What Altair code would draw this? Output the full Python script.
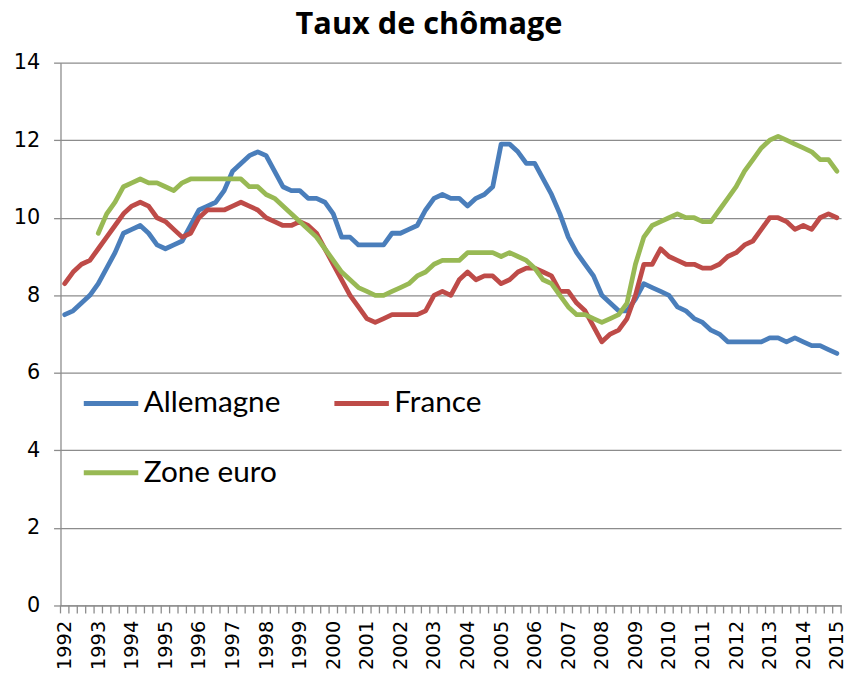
import altair as alt
import pandas as pd

# Quarterly data, 1992 T1 .. 2015 T1 (93 quarters)
first_year = 1992
n_quarters = 93

allemagne = [
    7.5, 7.6, 7.8, 8.0, 8.3, 8.7, 9.1, 9.6, 9.7, 9.8,
    9.6, 9.3, 9.2, 9.3, 9.4, 9.8, 10.2, 10.3, 10.4, 10.7,
    11.2, 11.4, 11.6, 11.7, 11.6, 11.2, 10.8, 10.7, 10.7, 10.5,
    10.5, 10.4, 10.1, 9.5, 9.5, 9.3, 9.3, 9.3, 9.3, 9.6,
    9.6, 9.7, 9.8, 10.2, 10.5, 10.6, 10.5, 10.5, 10.3, 10.5,
    10.6, 10.8, 11.9, 11.9, 11.7, 11.4, 11.4, 11.0, 10.6, 10.1,
    9.5, 9.1, 8.8, 8.5, 8.0, 7.8, 7.6, 7.6, 7.9, 8.3,
    8.2, 8.1, 8.0, 7.7, 7.6, 7.4, 7.3, 7.1, 7.0, 6.8,
    6.8, 6.8, 6.8, 6.8, 6.9, 6.9, 6.8, 6.9, 6.8, 6.7,
    6.7, 6.6, 6.5,
]
france = [
    8.3, 8.6, 8.8, 8.9, 9.2, 9.5, 9.8, 10.1, 10.3, 10.4,
    10.3, 10.0, 9.9, 9.7, 9.5, 9.6, 10.0, 10.2, 10.2, 10.2,
    10.3, 10.4, 10.3, 10.2, 10.0, 9.9, 9.8, 9.8, 9.9, 9.8,
    9.6, 9.2, 8.8, 8.4, 8.0, 7.7, 7.4, 7.3, 7.4, 7.5,
    7.5, 7.5, 7.5, 7.6, 8.0, 8.1, 8.0, 8.4, 8.6, 8.4,
    8.5, 8.5, 8.3, 8.4, 8.6, 8.7, 8.7, 8.6, 8.5, 8.1,
    8.1, 7.8, 7.6, 7.2, 6.8, 7.0, 7.1, 7.4, 8.0, 8.8,
    8.8, 9.2, 9.0, 8.9, 8.8, 8.8, 8.7, 8.7, 8.8, 9.0,
    9.1, 9.3, 9.4, 9.7, 10.0, 10.0, 9.9, 9.7, 9.8, 9.7,
    10.0, 10.1, 10.0,
]
zone_euro = [
    None, None, None, None, 9.6, 10.1, 10.4, 10.8, 10.9, 11.0,
    10.9, 10.9, 10.8, 10.7, 10.9, 11.0, 11.0, 11.0, 11.0, 11.0,
    11.0, 11.0, 10.8, 10.8, 10.6, 10.5, 10.3, 10.1, 9.9, 9.7,
    9.5, 9.2, 8.9, 8.6, 8.4, 8.2, 8.1, 8.0, 8.0, 8.1,
    8.2, 8.3, 8.5, 8.6, 8.8, 8.9, 8.9, 8.9, 9.1, 9.1,
    9.1, 9.1, 9.0, 9.1, 9.0, 8.9, 8.7, 8.4, 8.3, 8.0,
    7.7, 7.5, 7.5, 7.4, 7.3, 7.4, 7.5, 7.8, 8.8, 9.5,
    9.8, 9.9, 10.0, 10.1, 10.0, 10.0, 9.9, 9.9, 10.2, 10.5,
    10.8, 11.2, 11.5, 11.8, 12.0, 12.1, 12.0, 11.9, 11.8, 11.7,
    11.5, 11.5, 11.2,
]

series_names = ["Allemagne", "France", "Zone euro"]
series_colors = ["#4A7EBB", "#BE4B48", "#98B954"]
year_labels = list(range(1992, 2016))
y_ticks = [0, 2, 4, 6, 8, 10, 12, 14]

quarters = [first_year + i * 0.25 for i in range(n_quarters)]
rows = []
for name, vals in zip(series_names, [allemagne, france, zone_euro]):
    for t, v in zip(quarters, vals):
        if v is not None:
            rows.append({"t": t, "v": v, "serie": name})
df = pd.DataFrame(rows)

x_lo = first_year - 0.125
x_hi = first_year + (n_quarters - 1) * 0.25 + 0.125
bounds = pd.DataFrame({"b": [x_lo + 0.25 * k for k in range(n_quarters + 1)]})

W, H = 788, 548
x_scale = alt.Scale(domain=[x_lo, x_hi], nice=False, zero=False)
y_scale = alt.Scale(domain=[0, 14], nice=False)

GRID = "#8C8C8C"

x_axis = alt.Axis(
    values=year_labels, format="d", labelAngle=270, ticks=False,
    labelFont="DejaVu Sans", labelFontSize=19.5, labelColor="black",
    labelPadding=15, domainColor=GRID, domainWidth=1.3, grid=False,
    labelOverlap=False, labelFlush=False, labelSeparation=0, title=None)

qticks = alt.Chart(bounds).mark_rule(color=GRID, strokeWidth=1.3).encode(
    x=alt.X("b:Q", scale=x_scale, axis=x_axis),
    y=alt.value(H),
    y2=alt.value(H + 8),
)

lines = alt.Chart(df).mark_line(strokeWidth=4.8, strokeJoin="round", strokeCap="round").encode(
    x=alt.X("t:Q", scale=x_scale, axis=x_axis),
    y=alt.Y("v:Q", scale=y_scale, axis=alt.Axis(
        values=y_ticks, labelFont="DejaVu Sans", labelFontSize=21, labelColor="black",
        labelPadding=14, tickSize=7, tickColor=GRID, tickWidth=1.3,
        domainColor=GRID, domainWidth=1.3, grid=True, gridColor=GRID, gridWidth=1.3,
        title=None)),
    color=alt.Color("serie:N", scale=alt.Scale(domain=series_names, range=series_colors),
                    legend=alt.Legend(orient="none", legendX=21, legendY=314, columns=2,
                                      direction="horizontal",
                                      symbolType="stroke", symbolSize=3025, symbolStrokeWidth=5,
                                      labelFont="Lato", labelFontSize=30, labelColor="black",
                                      labelOffset=3, columnPadding=43, rowPadding=25,
                                      padding=0, title=None, labelLimit=400)),
    order=alt.Order("t:Q"),
)

chart = alt.layer(qticks, lines).properties(
    width=W, height=H,
    title=alt.TitleParams("Taux de chômage", font="Open Sans", fontSize=31, fontWeight="bold",
                          color="black", anchor="middle", dx=-22, offset=11),
    autosize=alt.AutoSizeParams(type="none"),
    padding={"left": 53, "top": 52, "right": 7, "bottom": 65},
).configure_view(stroke=None)

chart.save("out.html", embed_options={"renderer": "svg", "actions": False})
